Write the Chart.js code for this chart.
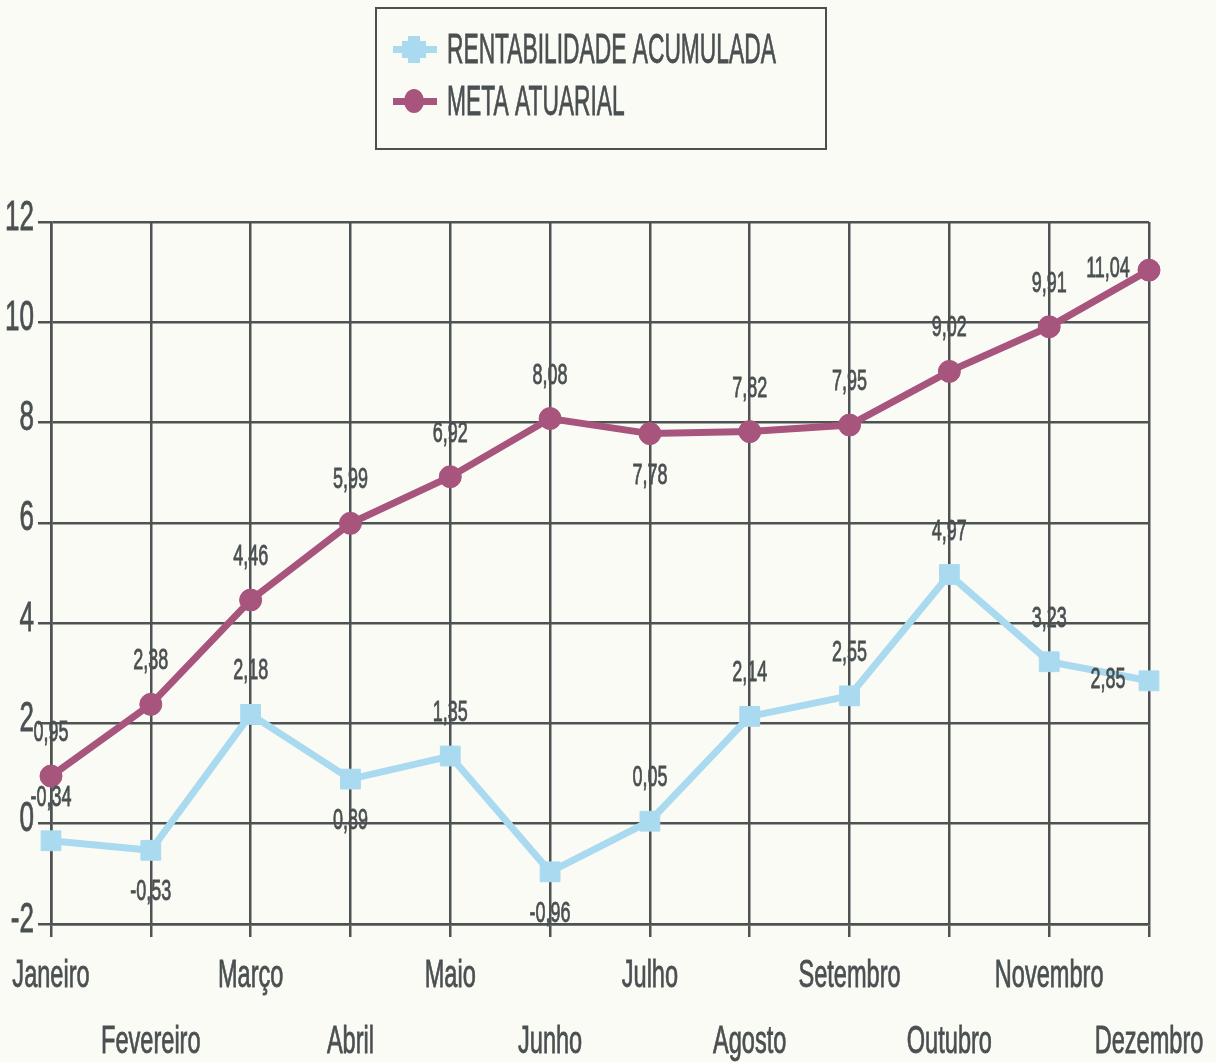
<!DOCTYPE html>
<html>
<head>
<meta charset="utf-8">
<script src="https://cdn.jsdelivr.net/npm/chart.js@4.4.1/dist/chart.umd.min.js"></script>
<style>
  html, body { margin: 0; padding: 0; background: #fbfbf6; }
</style>
</head>
<body>
<canvas id="mycanvas" width="1216" height="1062"></canvas>
<script>
var meses = ['Janeiro', 'Fevereiro', 'Março', 'Abril', 'Maio', 'Junho', 'Julho', 'Agosto', 'Setembro', 'Outubro', 'Novembro', 'Dezembro'];
var rentabilidade = [-0.34, -0.53, 2.18, 0.89, 1.35, -0.96, 0.05, 2.14, 2.55, 4.97, 3.23, 2.85];
var metaAtuarial = [0.95, 2.38, 4.46, 5.99, 6.92, 8.08, 7.78, 7.82, 7.95, 9.02, 9.91, 11.04];
var yTicks = [-2, 0, 2, 4, 6, 8, 10, 12];

var corRent = '#aadaf0';
var corMeta = '#a8557d';
var corTexto = '#4a5051';
var corGrade = '#4d5353';
var fonte = '"Liberation Sans", Arial, sans-serif';

// where each value label sits relative to its point
var posRent = ['up', 'down', 'up', 'down', 'up', 'down', 'up', 'up', 'up', 'up', 'up', 'left'];
var posMeta = ['up', 'up', 'up', 'up', 'up', 'up', 'down', 'up', 'up', 'up', 'up', 'left'];

// the original uses a very condensed face, so squeeze the text horizontally
function texto(ctx, txt, x, y, size, k, align, base) {
	ctx.save();
	ctx.translate(x, y);
	ctx.scale(k, 1);
	ctx.font = size + 'px ' + fonte;
	ctx.fillStyle = corTexto;
	ctx.strokeStyle = corTexto;
	ctx.lineWidth = 0.8;
	ctx.textAlign = align;
	ctx.textBaseline = base;
	ctx.fillText(txt, 0, 0);
	ctx.strokeText(txt, 0, 0);
	ctx.restore();
}

var desenhos = {
	id: 'desenhos',
	beforeDraw: function(chart) {
		var c = chart.ctx;
		c.save();
		c.fillStyle = '#fbfbf6';
		c.fillRect(0, 0, chart.width, chart.height);
		c.restore();
	},
	afterDraw: function(chart) {
		var c = chart.ctx;
		var xs = chart.scales.x, ys = chart.scales.y;

		// eixo y
		yTicks.forEach(function(v) {
			texto(c, String(v), 34, ys.getPixelForValue(v) - 4, 42, 0.62, 'right', 'middle');
		});
		// eixo x, duas linhas alternadas
		meses.forEach(function(m, i) {
			var y = i % 2 === 0 ? 987 : 1053;
			texto(c, m, xs.getPixelForValue(i), y, 38, 0.62, 'center', 'alphabetic');
		});

		// rótulos dos valores
		chart.data.datasets.forEach(function(ds, di) {
			var meta = chart.getDatasetMeta(di);
			var pos = di === 0 ? posRent : posMeta;
			meta.data.forEach(function(pt, i) {
				var txt = ds.data[i].toFixed(2).replace('.', ',');
				var x = pt.x, y = pt.y;
				if (pos[i] === 'up') { y -= 43; }
				else if (pos[i] === 'down') { y += 42; }
				else { x -= 41; y -= 1; }
				texto(c, txt, x, y, 29, 0.62, 'center', 'middle');
			});
		});

		// legenda
		c.save();
		c.strokeStyle = '#4a4f4f';
		c.lineWidth = 2;
		c.strokeRect(376, 8, 450, 141);
		c.restore();
		chart.data.datasets.forEach(function(ds, i) {
			var cy = i === 0 ? 49 : 101;
			c.save();
			c.fillStyle = ds.borderColor;
			c.fillRect(393, cy - 3, 44, 7);
			if (ds.pointStyle === 'circle') {
				c.beginPath();
				c.ellipse(414, cy, 10, 12, 0, 0, Math.PI * 2);
				c.fill();
			} else {
				c.fillRect(402, cy - 8, 24, 17);
				c.fillRect(408, cy - 13, 12, 27);
			}
			c.restore();
			texto(c, ds.label, 447, cy + 14, 43, 0.53, 'left', 'alphabetic');
		});
	}
};

var ctx = document.getElementById('mycanvas');
var chart = new Chart(ctx, {
	type: 'line',
	data: {
		labels: meses,
		datasets: [
			{
				label: 'RENTABILIDADE ACUMULADA',
				data: rentabilidade,
				borderColor: corRent,
				backgroundColor: corRent,
				borderWidth: 7,
				pointStyle: 'rect',
				pointRadius: 14,
				pointBorderWidth: 1,
				pointHoverRadius: 14
			},
			{
				label: 'META ATUARIAL',
				data: metaAtuarial,
				borderColor: corMeta,
				backgroundColor: corMeta,
				borderWidth: 7,
				pointStyle: 'circle',
				pointRadius: 11,
				pointBorderWidth: 1,
				pointHoverRadius: 11
			}
		]
	},
	options: {
		responsive: false,
		animation: false,
		layout: { padding: { top: 222, right: 67, left: 0, bottom: 0 } },
		plugins: { legend: { display: false }, tooltip: { enabled: false } },
		scales: {
			x: {
				offset: false,
				grid: { color: corGrade, lineWidth: 2.5, tickLength: 13 },
				border: { color: corGrade, width: 2.5 },
				ticks: { display: false, autoSkip: false },
				afterFit: function(s) { s.height = 138; }
			},
			y: {
				min: -2,
				max: 12,
				afterBuildTicks: function(s) { s.ticks = yTicks.map(function(v) { return { value: v }; }); },
				grid: { color: corGrade, lineWidth: 2.5, tickLength: 13 },
				border: { color: corGrade, width: 2.5 },
				ticks: { display: false },
				afterFit: function(s) { s.width = 51; }
			}
		}
	},
	plugins: [desenhos]
});
</script>
</body>
</html>
